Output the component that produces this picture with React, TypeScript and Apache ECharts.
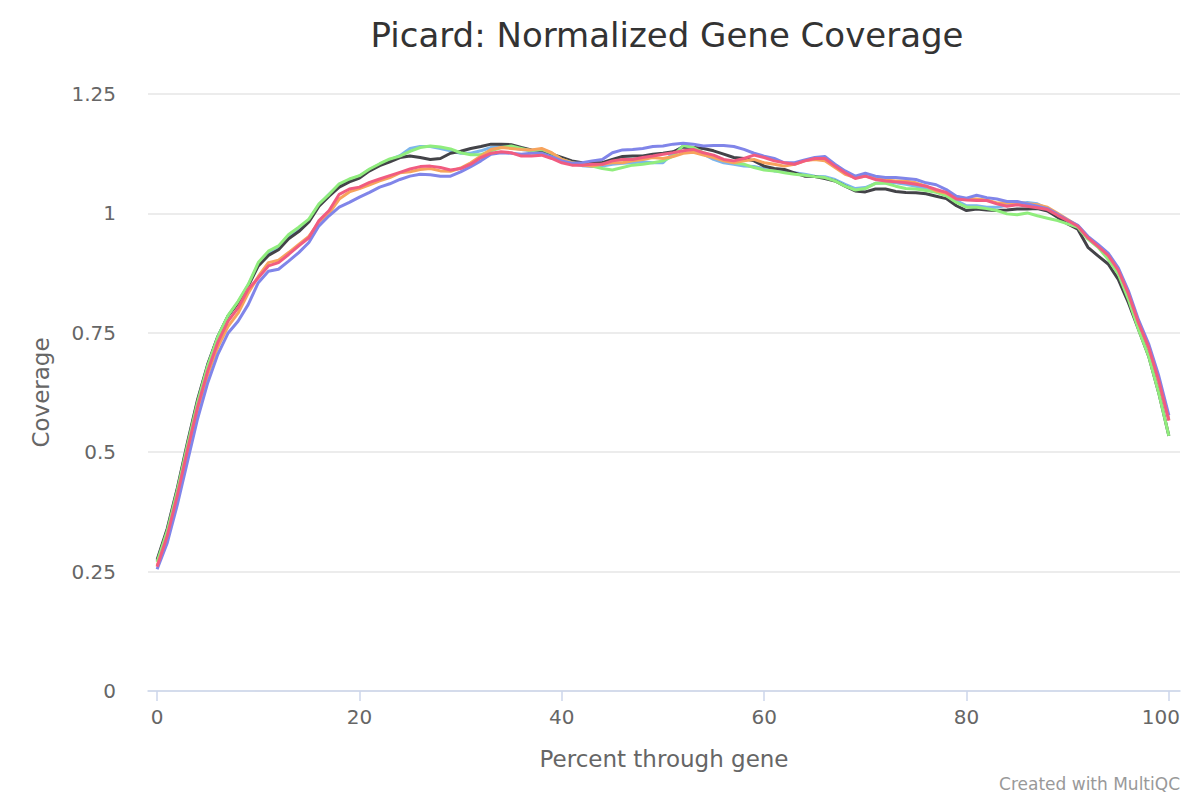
import React, { useEffect, useRef } from "react";
import * as echarts from "echarts";

const TITLE = "Picard: Normalized Gene Coverage";
const X_NAME = "Percent through gene";
const Y_NAME = "Coverage";
const CREDIT = "Created with MultiQC";
const X_TICKS = [0, 20, 40, 60, 80, 100];
const SERIES_COLORS = ["#7cb5ec", "#434348", "#90ed7d", "#f7a35c", "#8085e9", "#f15c80"];
const SERIES_NAMES = ["Sample 1", "Sample 2", "Sample 3", "Sample 4", "Sample 5", "Sample 6"];

const lightBlue = [
  0.272, 0.337, 0.422, 0.517, 0.607, 0.682, 0.742, 0.785, 0.814, 0.85,
  0.893, 0.917, 0.928, 0.952, 0.967, 0.985, 1.018, 1.04, 1.06, 1.07,
  1.078, 1.092, 1.103, 1.112, 1.121, 1.136, 1.14, 1.14, 1.136, 1.131,
  1.126, 1.126, 1.131, 1.138, 1.14, 1.138, 1.134, 1.131, 1.131, 1.124,
  1.113, 1.104, 1.1, 1.098, 1.099, 1.103, 1.105, 1.106, 1.108, 1.106,
  1.106, 1.127, 1.141, 1.134, 1.124, 1.113, 1.106, 1.103, 1.099, 1.098,
  1.094, 1.089, 1.087, 1.085, 1.082, 1.078, 1.077, 1.071, 1.061, 1.052,
  1.054, 1.063, 1.064, 1.064, 1.061, 1.057, 1.052, 1.047, 1.04, 1.027,
  1.016, 1.016, 1.013, 1.013, 1.017, 1.02, 1.023, 1.02, 1.01, 0.993,
  0.982, 0.972, 0.95, 0.932, 0.913, 0.882, 0.832, 0.77, 0.72, 0.65,
  0.568,
];

const black = [
  0.275, 0.34, 0.425, 0.52, 0.61, 0.684, 0.742, 0.785, 0.812, 0.848,
  0.89, 0.912, 0.924, 0.947, 0.962, 0.982, 1.015, 1.036, 1.055, 1.066,
  1.074, 1.089, 1.1, 1.108, 1.117, 1.12, 1.117, 1.113, 1.115, 1.126,
  1.13, 1.136, 1.14, 1.145, 1.145, 1.144, 1.138, 1.133, 1.131, 1.124,
  1.117, 1.11, 1.106, 1.106, 1.106, 1.113, 1.119, 1.12, 1.12, 1.124,
  1.126, 1.129, 1.139, 1.138, 1.136, 1.131, 1.124, 1.117, 1.115, 1.11,
  1.099, 1.094, 1.092, 1.085, 1.078, 1.077, 1.073, 1.068, 1.057, 1.047,
  1.045, 1.051, 1.051, 1.046, 1.044, 1.043, 1.041, 1.036, 1.031, 1.016,
  1.006, 1.009, 1.007, 1.006, 1.007, 1.009, 1.009, 1.01, 1.005, 0.992,
  0.978, 0.967, 0.929, 0.911, 0.894, 0.862, 0.813, 0.757, 0.701, 0.624,
  0.534,
];

const green = [
  0.27, 0.335, 0.42, 0.515, 0.605, 0.681, 0.742, 0.786, 0.816, 0.851,
  0.897, 0.921, 0.932, 0.956, 0.971, 0.988, 1.02, 1.04, 1.062, 1.072,
  1.079, 1.093, 1.104, 1.114, 1.12, 1.13, 1.138, 1.141, 1.139, 1.135,
  1.127, 1.123, 1.123, 1.131, 1.138, 1.141, 1.136, 1.131, 1.134, 1.126,
  1.113, 1.106, 1.103, 1.099, 1.094, 1.091, 1.096, 1.101, 1.103, 1.106,
  1.11, 1.12, 1.142, 1.138, 1.127, 1.12, 1.112, 1.106, 1.103, 1.096,
  1.091, 1.089, 1.085, 1.082, 1.08, 1.077, 1.075, 1.068, 1.057, 1.049,
  1.052, 1.063, 1.063, 1.057, 1.052, 1.051, 1.048, 1.044, 1.037, 1.023,
  1.013, 1.013, 1.01, 1.006, 0.999, 0.997, 1.001, 0.995, 0.99, 0.985,
  0.978, 0.971, 0.946, 0.929, 0.904, 0.873, 0.82, 0.757, 0.701, 0.624,
  0.534,
];

const orange = [
  0.262, 0.322, 0.405, 0.5, 0.59, 0.662, 0.72, 0.763, 0.791, 0.833,
  0.868, 0.897, 0.902, 0.918, 0.935, 0.952, 0.982, 1.0, 1.03, 1.045,
  1.052, 1.06, 1.068, 1.075, 1.085, 1.087, 1.092, 1.094, 1.089, 1.088,
  1.095, 1.106, 1.12, 1.134, 1.138, 1.136, 1.134, 1.133, 1.136, 1.127,
  1.113, 1.106, 1.101, 1.099, 1.103, 1.106, 1.106, 1.11, 1.113, 1.117,
  1.115, 1.119, 1.126, 1.128, 1.122, 1.117, 1.11, 1.106, 1.11, 1.113,
  1.106, 1.103, 1.099, 1.103, 1.11, 1.113, 1.11, 1.096, 1.082, 1.075,
  1.078, 1.073, 1.07, 1.068, 1.068, 1.064, 1.057, 1.047, 1.042, 1.031,
  1.03, 1.03, 1.028, 1.022, 1.022, 1.024, 1.02, 1.018, 1.013, 1.0,
  0.987, 0.974, 0.95, 0.932, 0.913, 0.882, 0.833, 0.771, 0.72, 0.65,
  0.567,
];

const purple = [
  0.255, 0.31, 0.39, 0.48, 0.57, 0.645, 0.705, 0.749, 0.774, 0.809,
  0.855, 0.879, 0.883, 0.9, 0.918, 0.939, 0.974, 0.995, 1.013, 1.023,
  1.034, 1.044, 1.055, 1.062, 1.071, 1.078, 1.082, 1.081, 1.078, 1.078,
  1.087, 1.098, 1.11, 1.124, 1.127, 1.126, 1.124, 1.126, 1.126, 1.119,
  1.11, 1.105, 1.106, 1.11, 1.113, 1.127, 1.133, 1.134, 1.136, 1.14,
  1.141, 1.145, 1.147, 1.145, 1.141, 1.142, 1.142, 1.14, 1.134, 1.126,
  1.12, 1.115, 1.106, 1.106, 1.112, 1.117, 1.119, 1.103, 1.089, 1.078,
  1.084, 1.078, 1.075, 1.075, 1.073, 1.071, 1.064, 1.06, 1.05, 1.036,
  1.032, 1.038, 1.033, 1.03, 1.025, 1.025, 1.02, 1.015, 1.01, 0.998,
  0.986, 0.975, 0.952, 0.935, 0.917, 0.886, 0.838, 0.777, 0.727, 0.66,
  0.577,
];

const pink = [
  0.26, 0.325, 0.41, 0.505, 0.595, 0.67, 0.73, 0.774, 0.802, 0.841,
  0.865, 0.89, 0.897, 0.914, 0.932, 0.949, 0.985, 1.006, 1.04, 1.051,
  1.055, 1.065, 1.072, 1.079, 1.086, 1.093, 1.098, 1.099, 1.096, 1.091,
  1.094, 1.103, 1.117, 1.126, 1.129, 1.127, 1.12, 1.12, 1.122, 1.115,
  1.106, 1.101, 1.101, 1.103, 1.103, 1.11, 1.113, 1.113, 1.117, 1.12,
  1.124, 1.127, 1.131, 1.134, 1.127, 1.122, 1.113, 1.11, 1.115, 1.122,
  1.117, 1.11, 1.106, 1.103, 1.11, 1.115, 1.115, 1.099, 1.085, 1.073,
  1.078, 1.071, 1.068, 1.066, 1.064, 1.061, 1.057, 1.05, 1.044, 1.03,
  1.028, 1.027, 1.027, 1.02, 1.015, 1.018, 1.015, 1.012, 1.008, 0.996,
  0.985, 0.973, 0.949, 0.931, 0.912, 0.881, 0.832, 0.771, 0.72, 0.65,
  0.566,
];

const SERIES_VALUES = [lightBlue, black, green, orange, purple, pink];

const FONT = "'DejaVu Sans', sans-serif";

export default function App() {
  const ref = useRef<HTMLDivElement>(null);

  useEffect(() => {
    document.body.style.margin = "0";
    if (!ref.current) return;
    const chart = echarts.init(ref.current, undefined, { renderer: "svg" });
    chart.setOption({
      animation: false,
      backgroundColor: "#ffffff",
      textStyle: { fontFamily: FONT },
      title: {
        text: TITLE,
        left: 662,
        textAlign: "center",
        top: 13,
        textStyle: { fontFamily: FONT, fontSize: 34, fontWeight: "normal", color: "#333333" },
      },
      grid: { left: 148, right: 20, top: 94, bottom: 109, containLabel: false },
      xAxis: {
        type: "value",
        min: -0.9,
        max: 101.1,
        name: X_NAME,
        nameLocation: "middle",
        nameGap: 56,
        nameTextStyle: { fontFamily: FONT, fontSize: 23, color: "#666666" },
        axisLine: { show: true, lineStyle: { color: "#ccd6eb", width: 1.5 } },
        axisTick: { show: true, length: 10, customValues: X_TICKS, lineStyle: { color: "#ccd6eb", width: 1.5 } },
        axisLabel: {
          customValues: X_TICKS,
          fontFamily: FONT,
          fontSize: 20,
          color: "#666666",
          margin: 16,
          formatter: (v: number) => (v === 100 ? "{last|100}" : String(v)),
          rich: { last: { fontFamily: FONT, fontSize: 20, color: "#666666", padding: [0, 16, 0, 0] } },
        },
        splitLine: { show: false },
      },
      yAxis: {
        type: "value",
        min: 0,
        max: 1.25,
        interval: 0.25,
        name: Y_NAME,
        nameLocation: "middle",
        nameGap: 96,
        nameTextStyle: { fontFamily: FONT, fontSize: 23, color: "#666666" },
        axisLine: { show: false },
        axisTick: { show: false },
        axisLabel: { fontFamily: FONT, fontSize: 20, color: "#666666", margin: 32 },
        splitLine: { show: true, lineStyle: { color: "#e6e6e6", width: 1.5 } },
      },
      graphic: [
        {
          type: "text",
          right: 20,
          bottom: 8,
          style: { text: CREDIT, fontFamily: FONT, fontSize: 17, fill: "#999999" },
        },
      ],
      series: SERIES_VALUES.map((vals, i) => ({
        type: "line",
        name: SERIES_NAMES[i],
        data: vals.map((v, x) => [x, v]),
        showSymbol: false,
        symbol: "none",
        lineStyle: { color: SERIES_COLORS[i], width: 3 },
        itemStyle: { color: SERIES_COLORS[i] },
        z: 2 + i,
      })),
    });
    return () => chart.dispose();
  }, []);

  return <div ref={ref} style={{ width: 1200, height: 800 }} />;
}
